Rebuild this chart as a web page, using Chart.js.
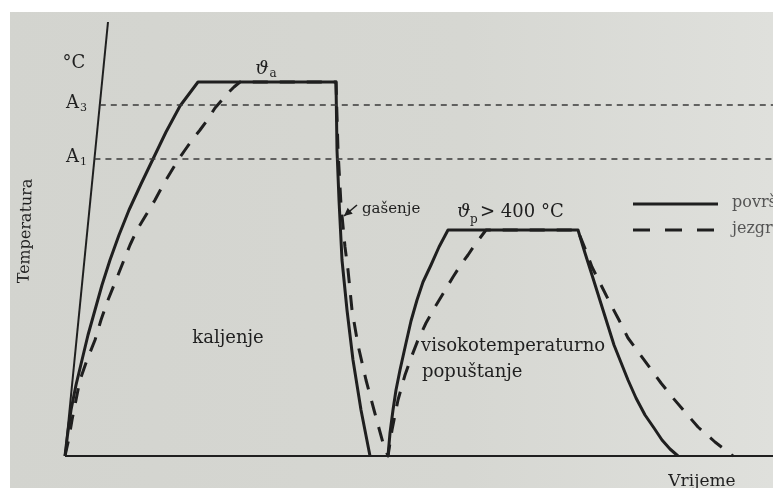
<!DOCTYPE html>
<html>
<head>
<meta charset="utf-8">
<script src="https://cdn.jsdelivr.net/npm/chart.js@4/dist/chart.umd.min.js"></script>
<style>
  body { margin: 0; background: #ffffff; }
  #wrap { width: 773px; height: 488px; }
</style>
</head>
<body>
<div id="wrap"><canvas id="myChart1" width="773" height="488"></canvas></div>
<script>
// time (arbitrary units) / temperature (arbitrary units)
// surface: heating + hold + quench, then tempering
const povrsinaT = [0, 2.5, 6, 11, 17, 23, 30, 37, 45, 54, 64, 76, 88, 101, 115, 124, 133,
                   271, 272, 274, 277, 282, 288, 296, 305, null,
                   323, 325, 328, 331, 335, 341, 346, 352, 358, 366, 374, 383,
                   513, 520, 527, 538, 549, 563, 571, 580, 589, 597, 605, 613];
const povrsinaY = [0, 21, 46, 71, 96, 121, 146, 171, 196, 221, 246, 272, 297, 324, 350, 362, 374,
                   374, 306, 256, 196, 146, 96, 46, 0, null,
                   0, 23, 46, 66, 86, 113, 135, 156, 174, 191, 209, 226,
                   226, 203, 181, 146, 111, 76, 58, 41, 28, 16, 7, 0];

// core
const jezgraT = [0, 4, 7, 11, 15, 22, 30, 36, 43, 51, 59, 65, 72, 81, 90, 98, 107, 113, 120, 127, 135, 143, 150, 157, 163, 169, 175,
                 271, 273, 276, 280, 283, 287, 293, 301, 309, 318, 323,
                 325, 327, 330, 333, 340, 346, 353, 361, 370, 379, 388, 395, 403, 409, 415, 421,
                 513, 515, 521, 527, 536, 545, 554, 563, 574, 585, 596, 608, 620, 633, 650, 668];
const jezgraY = [0, 18, 36, 56, 76, 96, 116, 136, 156, 176, 196, 211, 226, 241, 256, 271, 286, 296, 306, 316, 326, 337, 348, 356, 363, 369, 374,
                 374, 306, 251, 209, 186, 146, 111, 76, 46, 13, 0,
                 13, 26, 41, 56, 81, 98, 116, 133, 149, 164, 179, 190, 201, 210, 218, 226,
                 226, 220, 205, 189, 171, 153, 136, 118, 103, 88, 73, 58, 44, 29, 14, 0];

const levelNames = ['A3', 'A1'];
const levelValues = [351, 297];

const axisEndT = [0, 43];      // y axis drawn bottom -> top
const axisEndY = [0, 434];
const xAxisEnd = 708;

const seriesNames = ['površina', 'jezgra'];

function pts(xs, ys) {
  return xs.map((x, i) => (x === null ? { x: null, y: null } : { x: x, y: ys[i] }));
}

const ink = '#1f1f1f';
const serif = '"DejaVu Serif", "Liberation Serif", serif';

const datasets = [];
// temperature levels A3, A1 (thin dashed)
levelValues.forEach(function (v) {
  const x0 = axisEndT[0] + (axisEndT[1] - axisEndT[0]) * v / axisEndY[1];
  datasets.push({
    data: [{ x: x0, y: v }, { x: xAxisEnd, y: v }],
    borderColor: '#3a3a3a', borderWidth: 1.6, borderDash: [6, 5],
    pointRadius: 0, showLine: true, tension: 0
  });
});
// axes
datasets.push({
  data: pts(axisEndT, axisEndY),
  borderColor: ink, borderWidth: 2, pointRadius: 0, showLine: true
});
datasets.push({
  data: [{ x: 0, y: 0 }, { x: xAxisEnd, y: 0 }],
  borderColor: ink, borderWidth: 2, pointRadius: 0, showLine: true
});
// core
datasets.push({
  label: seriesNames[1],
  data: pts(jezgraT, jezgraY),
  borderColor: ink, borderWidth: 3, borderDash: [15, 12], borderJoinStyle: 'round',
  pointRadius: 0, showLine: true, spanGaps: false, tension: 0
});
// surface
datasets.push({
  label: seriesNames[0],
  data: pts(povrsinaT, povrsinaY),
  borderColor: ink, borderWidth: 3, borderJoinStyle: 'round',
  pointRadius: 0, showLine: true, spanGaps: false, tension: 0
});

const labelsPlugin = {
  id: 'labels',
  beforeDraw: function (chart) {
    const c = chart.ctx;
    c.save();
    c.fillStyle = '#ffffff';
    c.fillRect(0, 0, chart.width, chart.height);
    const g = c.createLinearGradient(0, 0, chart.width, 0);
    g.addColorStop(0, '#d3d4cf');
    g.addColorStop(0.6, '#d6d7d2');
    g.addColorStop(1, '#dfe0dc');
    c.fillStyle = g;
    c.fillRect(10, 12, chart.width - 10, chart.height - 12);
    c.restore();
  },
  afterDatasetsDraw: function (chart) {
    const c = chart.ctx;
    const sx = chart.scales.x, sy = chart.scales.y;
    const X = v => sx.getPixelForValue(v);
    const Y = v => sy.getPixelForValue(v);
    c.save();
    c.fillStyle = ink;
    c.textBaseline = 'middle';

    // °C
    c.font = '18px ' + serif;
    c.textAlign = 'center';
    c.fillText('°C', X(9), Y(393));

    // A3, A1
    levelNames.forEach(function (n, i) {
      c.font = '18px ' + serif;
      c.textAlign = 'right';
      c.fillText(n[0], X(14), Y(levelValues[i] + 2));
      c.font = '11px ' + serif;
      c.textAlign = 'left';
      c.fillText(n.slice(1), X(15), Y(levelValues[i] - 3));
    });

    // theta a
    c.font = 'italic 19px ' + serif;
    c.textAlign = 'center';
    c.fillText('ϑ', X(197), Y(387));
    c.font = '12px ' + serif;
    c.fillText('a', X(208), Y(382));

    // theta p > 400 °C
    c.font = 'italic 19px ' + serif;
    c.textAlign = 'left';
    c.fillText('ϑ', X(392), Y(244));
    c.font = '12px ' + serif;
    c.fillText('p', X(405), Y(236));
    c.font = '18px ' + serif;
    c.fillText('> 400 °C', X(415), Y(244));

    // gašenje with arrow
    c.font = '15px ' + serif;
    c.fillText('gašenje', X(297), Y(247));
    const ax0 = X(292), ay0 = Y(251), ax1 = X(279), ay1 = Y(240);
    c.strokeStyle = ink;
    c.lineWidth = 1.6;
    c.beginPath(); c.moveTo(ax0, ay0); c.lineTo(ax1, ay1); c.stroke();
    const ang = Math.atan2(ay1 - ay0, ax1 - ax0);
    c.beginPath();
    c.moveTo(ax1, ay1);
    c.lineTo(ax1 - 9 * Math.cos(ang - 0.45), ay1 - 9 * Math.sin(ang - 0.45));
    c.lineTo(ax1 - 9 * Math.cos(ang + 0.45), ay1 - 9 * Math.sin(ang + 0.45));
    c.closePath(); c.fill();

    // region texts
    c.font = '18px ' + serif;
    c.textAlign = 'center';
    c.fillText('kaljenje', X(163), Y(118));
    c.textAlign = 'left';
    c.fillText('visokotemperaturno', X(356), Y(110));
    c.fillText('popuštanje', X(357), Y(84));

    // legend
    const ds = chart.data.datasets;
    const lg = [ds[ds.length - 1], ds[ds.length - 2]];
    const lgY = [252, 226];
    lg.forEach(function (d, i) {
      c.strokeStyle = d.borderColor;
      c.lineWidth = d.borderWidth;
      c.setLineDash(d.borderDash ? [17, 15] : []);
      c.beginPath();
      c.moveTo(X(568), Y(lgY[i]));
      c.lineTo(X(653), Y(lgY[i]));
      c.stroke();
      c.setLineDash([]);
      c.font = '16px ' + serif;
      c.fillStyle = '#555';
      c.textAlign = 'left';
      c.fillText(d.label, X(667), Y(lgY[i] + 1));
    });
    c.fillStyle = ink;

    // axis titles
    c.font = '17px ' + serif;
    c.textAlign = 'center';
    c.fillText('Vrijeme', X(637), Y(-26));
    c.translate(X(-39), Y(225));
    c.rotate(-Math.PI / 2 + 0.03);
    c.font = '16px ' + serif;
    c.fillText('Temperatura', 0, 0);
    c.restore();
  }
};

new Chart(document.getElementById('myChart1'), {
  type: 'scatter',
  data: { datasets: datasets },
  options: {
    responsive: false,
    animation: false,
    layout: { padding: 0 },
    plugins: { legend: { display: false }, tooltip: { enabled: false } },
    scales: {
      x: { type: 'linear', display: false, min: -65, max: 708 },
      y: { type: 'linear', display: false, min: -32, max: 456 }
    }
  },
  plugins: [labelsPlugin]
});
</script>
</body>
</html>
